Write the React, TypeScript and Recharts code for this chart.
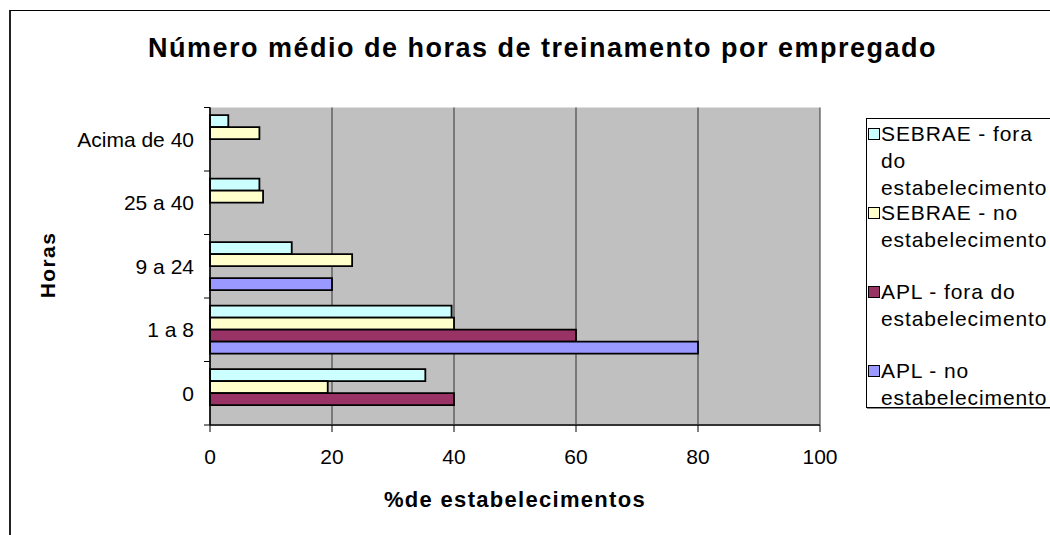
import { BarChart, Bar, XAxis, YAxis, CartesianGrid, Legend } from "recharts"

// Hours bands (top to bottom as drawn)
const categories = ["Acima de 40", "25 a 40", "9 a 24", "1 a 8", "0"]

// % of establishments per series
const sebraeFora = [3, 8.1, 13.4, 39.6, 35.3]
const sebraeNo = [8.1, 8.7, 23.3, 40, 19.3]
const aplFora = [0, 0, 0, 60, 40]
const aplNo = [0, 0, 20, 80, 0]

const xTicks = [0, 20, 40, 60, 80, 100]

const seriesOrder = ["sebraeFora", "sebraeNo", "aplFora", "aplNo"]
const legendLines: Record<string, string[]> = {
  sebraeFora: ["SEBRAE - fora", "do", "estabelecimento"],
  sebraeNo: ["SEBRAE - no", "estabelecimento"],
  aplFora: ["APL - fora do", "estabelecimento"],
  aplNo: ["APL - no", "estabelecimento"],
}

const data = categories.map((c, i) => ({
  cat: c,
  sebraeFora: sebraeFora[i],
  sebraeNo: sebraeNo[i],
  aplFora: aplFora[i],
  aplNo: aplNo[i],
}))

const FONT = "'Liberation Sans', Arial, sans-serif"

// category labels centered in band, tick marks between bands (Excel style)
const CatTick = (props: any) => {
  const { x, y, payload, index, visibleTicksCount } = props
  const off = payload && payload.offset ? payload.offset : 31.7
  const last = index === visibleTicksCount - 1
  return (
    <g>
      <line x1={210 - 6} x2={210} y1={y - off} y2={y - off} stroke="#000" />
      {last && <line x1={210 - 6} x2={210} y1={y + off} y2={y + off} stroke="#000" />}
      <text x={x - 8} y={y} dy="0.36em" textAnchor="end" fontSize={21} fontFamily={FONT} fill="#000">
        {payload.value}
      </text>
    </g>
  )
}

const renderLegend = (props: any) => {
  const items = [...(props.payload || [])].sort(
    (a: any, b: any) => seriesOrder.indexOf(a.dataKey) - seriesOrder.indexOf(b.dataKey)
  )
  return (
    <div
      style={{
        border: "1px solid #000",
        boxShadow: "1px 1px 0 #888",
        width: 200,
        height: 290,
        boxSizing: "border-box",
        background: "#fff",
        paddingTop: 1,
        textAlign: "left",
      }}
    >
      {items.map((p: any) => (
        <div key={p.dataKey} style={{ position: "relative", height: 79, paddingLeft: 14 }}>
          <span
            style={{
              position: "absolute",
              left: 1,
              top: 8,
              width: 10,
              height: 10,
              background: p.color,
              border: "1px solid #000",
            }}
          />
          {legendLines[p.dataKey].map((l) => (
            <div
              key={l}
              style={{
                fontSize: 21,
                lineHeight: "27px",
                fontFamily: FONT,
                color: "#000",
                whiteSpace: "nowrap",
                letterSpacing: 0.9,
              }}
            >
              {l}
            </div>
          ))}
        </div>
      ))}
    </div>
  )
}

export default function App() {
  return (
    <div
      style={{
        position: "absolute",
        left: 0,
        top: 0,
        width: 1050,
        height: 535,
        overflow: "hidden",
        background: "#fff",
        fontFamily: FONT,
      }}
    >
      <div
        style={{
          position: "absolute",
          left: 9,
          top: 10,
          width: 1100,
          height: 600,
          borderLeft: "2px solid #222",
          borderTop: "1px solid #000",
        }}
      />
      <div
        style={{
          position: "absolute",
          left: 0,
          top: 33,
          width: 1085,
          textAlign: "center",
          fontSize: 27,
          fontWeight: "bold",
          letterSpacing: 1.5,
          color: "#000",
        }}
      >
        Número médio de horas de treinamento por empregado
      </div>
      <div
        style={{
          position: "absolute",
          left: 48,
          top: 265,
          transform: "translate(-50%, -50%) rotate(-90deg)",
          fontSize: 21,
          fontWeight: "bold",
          letterSpacing: 1.4,
          whiteSpace: "nowrap",
        }}
      >
        Horas
      </div>
      <div
        style={{
          position: "absolute",
          left: 515,
          top: 500,
          transform: "translate(-50%, -50%)",
          fontSize: 22,
          fontWeight: "bold",
          letterSpacing: 1.3,
          whiteSpace: "nowrap",
        }}
      >
        %de estabelecimentos
      </div>
      <div style={{ position: "absolute", left: 0, top: 0 }}>
        <BarChart
          width={1050}
          height={535}
          data={data}
          layout="vertical"
          margin={{ top: 107.5, right: 230, bottom: 70, left: 0 }}
          barCategoryGap="12%"
          barGap={0}
        >
          <CartesianGrid fill="#C0C0C0" horizontal={false} stroke="#333" />
          <XAxis
            type="number"
            domain={[0, 100]}
            ticks={xTicks}
            height={40}
            tickSize={7}
            tickMargin={17}
            axisLine={{ stroke: "#333", strokeWidth: 2 }}
            tickLine={{ stroke: "#000" }}
            tick={{ fontSize: 21, fontFamily: FONT, fill: "#000" }}
          />
          <XAxis
            xAxisId="top"
            orientation="top"
            type="number"
            domain={[0, 100]}
            height={0}
            tick={false}
            tickLine={false}
            axisLine={{ stroke: "#808080", strokeWidth: 2 }}
          />
          <YAxis
            type="category"
            dataKey="cat"
            width={210}
            tickLine={false}
            axisLine={{ stroke: "#000", strokeWidth: 1.5 }}
            tick={<CatTick />}
            interval={0}
          />
          <Legend
            layout="horizontal"
            verticalAlign="middle"
            align="center"
            content={renderLegend}
            wrapperStyle={{ position: "absolute", left: 866, top: 118, width: 200, height: 290 }}
          />
          <Bar dataKey="sebraeFora" name="SEBRAE - fora do estabelecimento" fill="#CCFFFF" stroke="#000" strokeWidth={1.8} isAnimationActive={false} />
          <Bar dataKey="sebraeNo" name="SEBRAE - no estabelecimento" fill="#FFFFCC" stroke="#000" strokeWidth={1.8} isAnimationActive={false} />
          <Bar dataKey="aplFora" name="APL - fora do estabelecimento" fill="#993366" stroke="#000" strokeWidth={1.8} isAnimationActive={false} />
          <Bar dataKey="aplNo" name="APL - no estabelecimento" fill="#9999FF" stroke="#000" strokeWidth={1.8} isAnimationActive={false} />
        </BarChart>
      </div>
    </div>
  )
}
